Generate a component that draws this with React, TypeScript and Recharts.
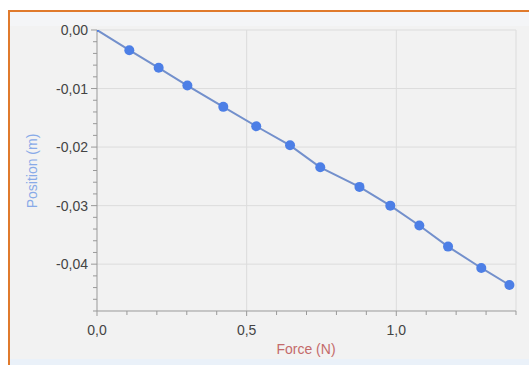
import React from "react";
import { LineChart, Line, XAxis, YAxis, ReferenceLine } from "recharts";

const forceValues = [0, 0.108, 0.206, 0.302, 0.422, 0.532, 0.645, 0.746, 0.877, 0.98, 1.077, 1.173, 1.284, 1.378];
const positionValues = [0, -0.00345, -0.00646, -0.00949, -0.01313, -0.01644, -0.0197, -0.02345, -0.0268, -0.03, -0.0334, -0.037, -0.04065, -0.04356];

const xMajorTicks = [0, 0.5, 1.0];
const xMinorTicks = [0, 0.1, 0.2, 0.3, 0.4, 0.5, 0.6, 0.7, 0.8, 0.9, 1.0, 1.1, 1.2, 1.3, 1.4];
const yMajorTicks = [0, -0.01, -0.02, -0.03, -0.04];
const yMinorTicks = [0, -0.002, -0.004, -0.006, -0.008, -0.01, -0.012, -0.014, -0.016, -0.018, -0.02, -0.022, -0.024, -0.026, -0.028, -0.03, -0.032, -0.034, -0.036, -0.038, -0.04, -0.042, -0.044, -0.046, -0.048];

const data = forceValues.map((f, i) => ({ force: f, position: positionValues[i] }));

const near = (a: number, list: number[]) => list.some((v) => Math.abs(v - a) < 1e-9);
const fmtX = (v: number) => v.toFixed(1).replace(".", ",");
const fmtY = (v: number) => (Math.abs(v) < 1e-12 ? "0,00" : v.toFixed(2).replace(".", ","));

const FONT = "'Liberation Sans', Arial, sans-serif";

const XTick = (props: any) => {
  const { x, y, payload } = props;
  const v = payload.value as number;
  const major = near(v, xMajorTicks);
  return (
    <g>
      <line x1={x} x2={x} y1={y} y2={y + (major ? 5 : 4)} stroke="#999" strokeWidth={1} />
      {major && (
        <text x={x} y={y + 24} textAnchor="middle" fontSize={14} fill="#444" fontFamily={FONT}>
          {fmtX(v)}
        </text>
      )}
    </g>
  );
};

const YTick = (props: any) => {
  const { x, y, payload } = props;
  const v = payload.value as number;
  const major = near(v, yMajorTicks);
  return (
    <g>
      <line x1={x - (major ? 6 : 4)} x2={x} y1={y} y2={y} stroke="#999" strokeWidth={1} />
      {major && (
        <text x={x - 9} y={y + 5} textAnchor="end" fontSize={14} fill="#444" fontFamily={FONT}>
          {fmtY(v)}
        </text>
      )}
    </g>
  );
};

const Dot = (props: any) => {
  const { cx, cy, index } = props;
  if (cx == null || cy == null) return null;
  return <circle key={index} cx={cx} cy={cy} r={index === 0 ? 2 : 5} fill="#4d7fe6" stroke="none" />;
};

export default function App() {
  return (
    <div style={{ position: "absolute", left: 0, top: 0, width: 529, height: 365, overflow: "hidden", background: "#ffffff" }}>
      <div
        style={{
          position: "absolute",
          left: 8,
          top: 10,
          width: 540,
          height: 380,
          borderLeft: "2px solid #e07a2c",
          borderTop: "2px solid #e07a2c",
          background: "#f2f2f2",
        }}
      />
      <div style={{ position: "absolute", left: 10, top: 12, width: 530, height: 14, background: "#f4f5f7" }} />
      <div style={{ position: "absolute", left: 10, top: 359, width: 530, height: 8, background: "#eaf1f9" }} />
      <div style={{ position: "absolute", left: 0, top: 0 }}>
        <LineChart
          width={529}
          height={365}
          data={data}
          margin={{ top: 30, right: 13, bottom: 24, left: 37 }}
        >
          <XAxis
            dataKey="force"
            type="number"
            domain={[0, 1.4]}
            ticks={xMinorTicks}
            interval={0}
            tick={<XTick />}
            tickLine={false}
            tickSize={0}
            tickMargin={0}
            height={30}
            axisLine={{ stroke: "#999" }}
            allowDataOverflow
          />
          <YAxis
            dataKey="position"
            type="number"
            domain={[-0.048, 0]}
            ticks={yMinorTicks}
            interval={0}
            tick={<YTick />}
            tickLine={false}
            tickSize={0}
            tickMargin={0}
            width={60}
            axisLine={{ stroke: "#999" }}
            allowDataOverflow
          />
          {yMajorTicks.map((v) => (
            <ReferenceLine key={"y" + v} y={v} stroke="#dcdcdc" strokeWidth={1} />
          ))}
          {[0.5, 1.0, 1.4].map((v) => (
            <ReferenceLine key={"x" + v} x={v} stroke="#dcdcdc" strokeWidth={1} />
          ))}
          <Line
            dataKey="position"
            stroke="#7390cc"
            strokeWidth={2}
            dot={<Dot />}
            activeDot={false}
            isAnimationActive={false}
          />
        </LineChart>
      </div>
      <div
        style={{
          position: "absolute",
          left: 32,
          top: 171,
          transform: "translate(-50%, -50%) rotate(-90deg)",
          fontFamily: FONT,
          fontSize: 14,
          color: "#88aae8",
          whiteSpace: "nowrap",
        }}
      >
        Position (m)
      </div>
      <div
        style={{
          position: "absolute",
          left: 306,
          top: 349,
          transform: "translate(-50%, -50%)",
          fontFamily: FONT,
          fontSize: 14,
          color: "#c46a6a",
          whiteSpace: "nowrap",
        }}
      >
        Force (N)
      </div>
    </div>
  );
}
